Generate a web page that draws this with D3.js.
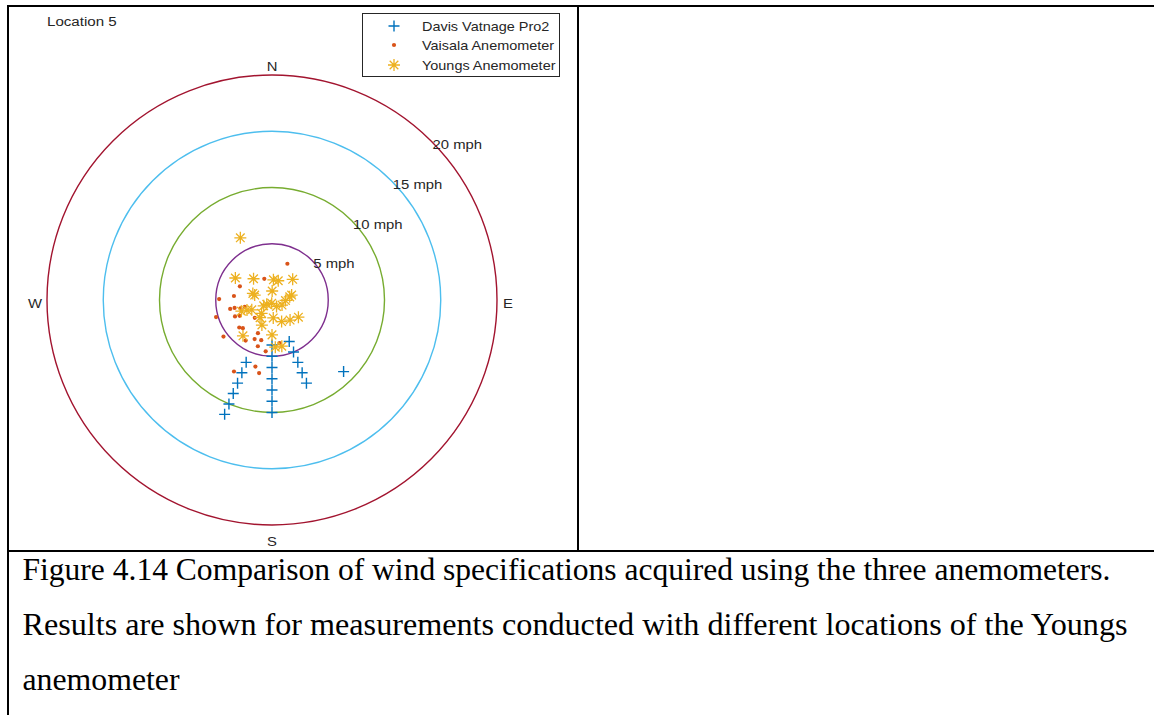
<!DOCTYPE html>
<html>
<head>
<meta charset="utf-8">
<script src="https://cdn.jsdelivr.net/npm/d3@7"></script>
<style>
body { margin: 0; background: #fff; }
</style>
</head>
<body>
<script>
// wind readings, location 5: direction = degrees clockwise from north, speed = mph
const davisDir   = [180, 180, 180, 180, 180, 180, 180,
                    202.5, 202.5, 202.5, 202.5, 202.5, 202.5,
                    157.5, 157.5, 157.5, 157.5, 157.5, 135];
const davisSpeed = [4, 5, 6, 7, 8, 9, 10,
                    6, 7, 8, 9, 10, 11,
                    4, 5, 6, 7, 8, 9];

const vaisalaDir   = [23, 340, 293, 276, 271, 253, 258, 255, 256, 258, 246, 244, 224,
                      230, 226, 233, 203, 213, 204, 195, 197, 187, 170, 208, 194, 190];
const vaisalaSpeed = [3.5, 2.0, 3.1, 3.4, 4.7, 5.2, 3.4, 2.9, 2.5, 3.8, 3.6, 3.2, 2.2,
                      3.8, 3.6, 5.4, 3.2, 4.3, 3.8, 3.7, 4.3, 4.6, 3.9, 7.2, 6.1, 6.6];

const youngsDir   = [333, 301, 319, 4, 18, 45, 289, 286, 1, 80, 76, 92, 185, 231, 235, 145,
                     117, 250, 248, 244, 218, 214, 176, 156, 138, 123, 202, 219, 180, 176, 168];
const youngsSpeed = [6.2, 3.8, 2.5, 1.8, 1.8, 2.6, 1.8, 1.6, 0.8, 1.6, 1.8, 1.2, 0.3, 0.6, 0.9, 0.7,
                     1.0, 2.9, 2.4, 2.0, 1.5, 1.9, 1.6, 2.1, 2.4, 2.8, 2.4, 4.1, 3.1, 4.2, 4.2];

const ringSpeeds = [5, 10, 15, 20];
const ringLabels = ["5 mph", "10 mph", "15 mph", "20 mph"];
const compassLabels = ["N", "E", "S", "W"];
const seriesNames = ["Davis Vatnage Pro2", "Vaisala Anemometer", "Youngs Anemometer"];
const plotTitle = "Location 5";
const captionLines = [
    "Figure 4.14 Comparison of wind specifications acquired using the three anemometers.",
    "Results are shown for measurements conducted with different locations of the Youngs",
    "anemometer"
];

const width = 1154, height = 715;
const cx = 272, cy = 300;
const ringColors = ["#7E2F8E", "#77AC30", "#4DBEEE", "#A2142F"];
const seriesColors = ["#0072BD", "#D95319", "#EDB120"];

var r = d3.scaleLinear().domain([0, 20]).range([0, 225]);
var ang = d3.scaleLinear().domain([0, 360]).range([0, 2 * Math.PI]);

function px(dir, spd) { return cx + r(spd) * Math.sin(ang(dir)); }
function py(dir, spd) { return cy - r(spd) * Math.cos(ang(dir)); }

const plusPath = "M-5.5,0H5.5M0,-5.5V5.5";
const starPath = "M-6,0H6M0,-6V6M-4.3,-4.3L4.3,4.3M-4.3,4.3L4.3,-4.3";

var svg = d3.select("body").append("svg")
    .attr("width", width)
    .attr("height", height)
    .style("font-family", "'Liberation Sans', Arial, Helvetica, sans-serif");

// the source text is a bit wider than Arial, so stretch it a little
function label(g, x, y, str, anchor, sx) {
    return g.append("text")
        .attr("transform", "translate(" + x + "," + y + ") scale(" + (sx || 1.1) + ",1)")
        .attr("text-anchor", anchor)
        .attr("dy", "0.35em")
        .attr("font-size", 13.5)
        .attr("fill", "#262626")
        .text(str);
}

// table borders
var borders = svg.append("g").attr("stroke", "#000").attr("stroke-width", 2);
borders.append("line").attr("x1", 7).attr("x2", width).attr("y1", 6).attr("y2", 6);
borders.append("line").attr("x1", 8).attr("x2", 8).attr("y1", 5).attr("y2", height);
borders.append("line").attr("x1", 578).attr("x2", 578).attr("y1", 5).attr("y2", 551);
borders.append("line").attr("x1", 7).attr("x2", width).attr("y1", 551).attr("y2", 551);

var plot = svg.append("g");

// speed rings
plot.selectAll(".ring")
    .data(ringSpeeds)
    .enter().append("circle")
    .attr("class", "ring")
    .attr("cx", cx)
    .attr("cy", cy)
    .attr("r", d => r(d))
    .attr("fill", "none")
    .attr("stroke", (d, i) => ringColors[i])
    .attr("stroke-width", 1.4);

ringSpeeds.forEach(function (s, i) {
    label(plot, px(45, s) + 1.5, py(45, s) + 3.5, ringLabels[i], "start");
});

// compass letters
var rMax = r(20);
label(plot, cx, cy - rMax - 9, compassLabels[0], "middle");
label(plot, cx + rMax + 11, cy + 3, compassLabels[1], "middle");
label(plot, cx, cy + rMax + 16, compassLabels[2], "middle");
label(plot, cx - rMax - 12, cy + 3, compassLabels[3], "middle");

label(plot, 47, 21, plotTitle, "start", 1.12);

// Davis
plot.selectAll(".davis")
    .data(davisDir)
    .enter().append("path")
    .attr("class", "davis")
    .attr("d", plusPath)
    .attr("transform", (d, i) => "translate(" + px(d, davisSpeed[i]) + "," + py(d, davisSpeed[i]) + ")")
    .attr("stroke", seriesColors[0])
    .attr("stroke-width", 1.4)
    .attr("fill", "none");

// Vaisala
plot.selectAll(".vaisala")
    .data(vaisalaDir)
    .enter().append("circle")
    .attr("class", "vaisala")
    .attr("cx", (d, i) => px(d, vaisalaSpeed[i]))
    .attr("cy", (d, i) => py(d, vaisalaSpeed[i]))
    .attr("r", 2.1)
    .attr("fill", seriesColors[1]);

// Youngs
plot.selectAll(".youngs")
    .data(youngsDir)
    .enter().append("path")
    .attr("class", "youngs")
    .attr("d", starPath)
    .attr("transform", (d, i) => "translate(" + px(d, youngsSpeed[i]) + "," + py(d, youngsSpeed[i]) + ")")
    .attr("stroke", seriesColors[2])
    .attr("stroke-width", 1.3)
    .attr("fill", "none");

// legend
var legend = plot.append("g");
legend.append("rect")
    .attr("x", 362.5).attr("y", 13.5)
    .attr("width", 197).attr("height", 63)
    .attr("fill", "#fff")
    .attr("stroke", "#262626")
    .attr("stroke-width", 1);
var rowY = [26, 45, 65];
legend.append("path").attr("d", plusPath)
    .attr("transform", "translate(394," + rowY[0] + ")")
    .attr("stroke", seriesColors[0]).attr("stroke-width", 1.4);
legend.append("circle").attr("cx", 394).attr("cy", rowY[1]).attr("r", 2.1)
    .attr("fill", seriesColors[1]);
legend.append("path").attr("d", starPath)
    .attr("transform", "translate(394," + rowY[2] + ")")
    .attr("stroke", seriesColors[2]).attr("stroke-width", 1.3);
seriesNames.forEach(function (n, i) {
    label(legend, 422, rowY[i], n, "start", 1.07);
});

// caption
var capWidths = [1088, 1105, 157];
var capBase = [580, 635, 690];
svg.append("g")
    .attr("font-family", "'Liberation Serif', 'Times New Roman', serif")
    .attr("font-size", 30.5)
    .attr("fill", "#000")
    .selectAll("text")
    .data(captionLines)
    .enter().append("text")
    .attr("x", 22.5)
    .attr("y", (d, i) => capBase[i])
    .attr("textLength", (d, i) => capWidths[i])
    .attr("lengthAdjust", "spacingAndGlyphs")
    .text(d => d);
</script>
</body>
</html>
